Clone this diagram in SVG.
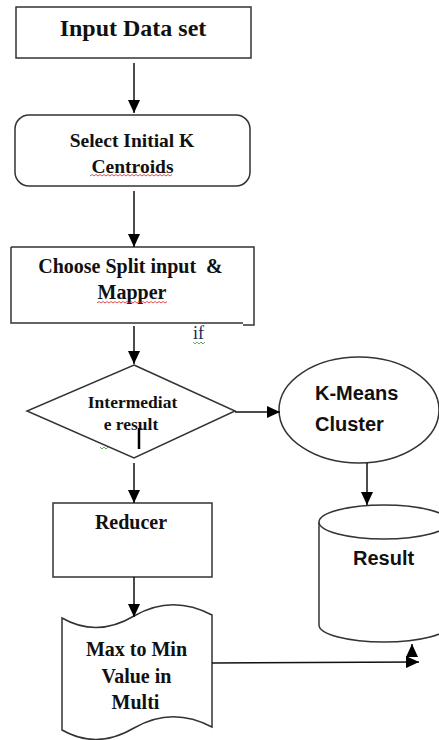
<svg xmlns="http://www.w3.org/2000/svg" width="439" height="740" viewBox="0 0 439 740">
<defs>
<marker id="arr" markerUnits="userSpaceOnUse" markerWidth="13" markerHeight="12" refX="13" refY="6" orient="auto">
<path d="M0,0 L13,6 L0,12 Z" fill="#000"/>
</marker>
<style>
.shape{fill:#fff;stroke:#333;stroke-width:1.5}
.edge{fill:none;stroke:#111;stroke-width:1.5}
.serif{font-family:"Liberation Serif","Times New Roman",serif;font-weight:bold;fill:#111}
.sans{font-family:"Liberation Sans",Arial,sans-serif;font-weight:bold;fill:#111;font-size:20px}
.sq-red{fill:none;stroke:#e02020;stroke-width:0.8}
.sq-green{fill:none;stroke:#3a9a3a;stroke-width:0.8}
</style>
</defs>
<rect width="439" height="740" fill="#fff"/>

<g id="input-data-set">
<rect class="shape" x="16" y="7" width="235" height="51"/>
<text class="serif" x="133" y="36" font-size="24" text-anchor="middle">Input Data set</text>
</g>

<g id="select-centroids">
<rect class="shape" x="15" y="115" width="235" height="71" rx="14" ry="14"/>
<text class="serif" x="132" y="147" font-size="19.5" text-anchor="middle">Select Initial K</text>
<text class="serif" x="132.5" y="173" font-size="19.5" text-anchor="middle">Centroids</text>
<path class="sq-red" d="M90,176 l2,-1.5 l2,1.5 l2,-1.5 l2,1.5 l2,-1.5 l2,1.5 l2,-1.5 l2,1.5 l2,-1.5 l2,1.5 l2,-1.5 l2,1.5 l2,-1.5 l2,1.5 l2,-1.5 l2,1.5 l2,-1.5 l2,1.5 l2,-1.5 l2,1.5 l2,-1.5 l2,1.5 l2,-1.5 l2,1.5 l2,-1.5 l2,1.5 l2,-1.5 l2,1.5 l2,-1.5 l2,1.5 l2,-1.5 l2,1.5 l2,-1.5 l2,1.5 l2,-1.5 l2,1.5 l2,-1.5 l2,1.5 l2,-1.5 l2,1.5 l2,-1.5"/>
</g>

<g id="split-mapper">
<path d="M11,247 H254 V325 H243 M243,323 H11 V247" fill="#fff" stroke="#333" stroke-width="1.5"/>
<text class="serif" x="130.5" y="273" font-size="20" text-anchor="middle" xml:space="preserve">Choose Split input  &amp;</text>
<text class="serif" x="132" y="299" font-size="20" text-anchor="middle">Mapper</text>
<path class="sq-red" d="M97,303 l2,-1.5 l2,1.5 l2,-1.5 l2,1.5 l2,-1.5 l2,1.5 l2,-1.5 l2,1.5 l2,-1.5 l2,1.5 l2,-1.5 l2,1.5 l2,-1.5 l2,1.5 l2,-1.5 l2,1.5 l2,-1.5 l2,1.5 l2,-1.5 l2,1.5 l2,-1.5 l2,1.5 l2,-1.5 l2,1.5 l2,-1.5 l2,1.5 l2,-1.5 l2,1.5 l2,-1.5 l2,1.5 l2,-1.5 l2,1.5 l2,-1.5 l2,1.5 l2,-1.5"/>
</g>

<g id="if-label">
<text x="193" y="339" font-family="Liberation Serif, serif" font-size="18" fill="#1a2a5a">if</text>
<path class="sq-green" d="M193,342 l2,2 l2,-2 l2,2 l2,-2 l2,2 l2,-2"/>
</g>

<g id="intermediate-result">
<polygon class="shape" points="134,365 235,411 134,458 27,411"/>
<text class="serif" x="132.5" y="408" font-size="17.5" text-anchor="middle">Intermediat</text>
<text class="serif" x="131" y="430" font-size="17.5" text-anchor="middle">e result</text>
<line x1="139" y1="428" x2="139" y2="449" stroke="#000" stroke-width="2.5"/>
<path class="sq-green" d="M100,447 l2,2 l2,-2 l2,2 l2,-2"/>
</g>

<g id="kmeans-cluster">
<ellipse class="shape" cx="359" cy="410" rx="80" ry="53"/>
<text class="sans" x="315" y="400">K-Means</text>
<text class="sans" x="315" y="431">Cluster</text>
</g>

<g id="reducer">
<rect class="shape" x="53" y="503" width="159" height="74"/>
<text class="serif" x="131" y="529" font-size="20" text-anchor="middle">Reducer</text>
</g>

<g id="result">
<path class="shape" d="M319,522 V625 A65,17 0 0 0 449,625 V522"/>
<ellipse class="shape" cx="384" cy="522" rx="65" ry="17"/>
<text class="sans" x="353" y="565">Result</text>
</g>

<g id="max-min">
<path class="shape" d="M62,618 Q97,638 134,616 Q172,594 212,615 V727 Q172,706 134,728 Q97,750 62,730 Z"/>
<text class="serif" x="136.5" y="656" font-size="20" text-anchor="middle">Max to Min</text>
<text class="serif" x="136.5" y="683" font-size="20" text-anchor="middle">Value in</text>
<text class="serif" x="135.5" y="709" font-size="20" text-anchor="middle">Multi</text>
</g>

<g id="connectors">
<line class="edge" x1="134" y1="63" x2="134" y2="113" marker-end="url(#arr)"/>
<line class="edge" x1="134" y1="191" x2="134" y2="247" marker-end="url(#arr)"/>
<line class="edge" x1="134" y1="326" x2="134" y2="364" marker-end="url(#arr)"/>
<line class="edge" x1="235" y1="412" x2="280" y2="412" marker-end="url(#arr)"/>
<line class="edge" x1="134" y1="463" x2="134" y2="503" marker-end="url(#arr)"/>
<line class="edge" x1="367" y1="463" x2="367" y2="505" marker-end="url(#arr)"/>
<line class="edge" x1="134" y1="577" x2="134" y2="617" marker-end="url(#arr)"/>
<line class="edge" x1="212" y1="663" x2="419" y2="662" marker-end="url(#arr)"/>
<line class="edge" x1="412" y1="656" x2="412" y2="644" marker-end="url(#arr)"/>
</g>
</svg>
